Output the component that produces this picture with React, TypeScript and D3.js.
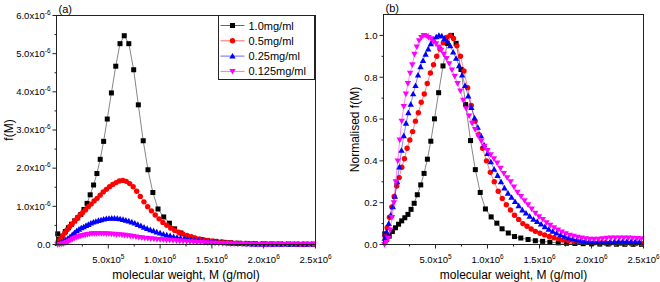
import React from 'react';
import * as d3 from 'd3';

// ---------- data (M in units of 1e5 g/mol; normalised f(M)) ----------
const seriesLabels = ['1.0mg/ml', '0.5mg/ml', '0.25mg/ml', '0.125mg/ml'];
const seriesColors = ['#000000', '#ff0000', '#0000ff', '#ff00ff'];
const seriesShapes = ['square', 'circle', 'triangleUp', 'triangleDown'];
// peak height of f(M) for each concentration, units of 1e-6
const peakValues = [5.47, 1.68, 0.69, 0.29];

const mBlack = [0.12, 0.3, 0.55, 0.85, 1.15, 1.45, 1.75, 2.05, 2.35, 2.65, 2.95, 3.25, 3.58, 3.9, 4.22, 4.55, 4.9, 5.3, 5.72, 6.13, 6.54, 6.98, 7.45, 7.9, 8.37, 8.83, 9.3, 9.8, 10.35, 10.9, 11.4, 12.0, 12.6, 13.2, 13.9, 14.6, 15.3, 16.0, 16.8, 17.6, 18.4, 19.2, 20.0, 20.8, 21.6, 22.4, 23.2, 24.0, 24.8];
const nBlack = [0.051, 0.024, 0.04, 0.062, 0.08, 0.097, 0.113, 0.128, 0.144, 0.168, 0.197, 0.238, 0.285, 0.34, 0.408, 0.494, 0.601, 0.726, 0.854, 0.962, 1.0, 0.962, 0.837, 0.669, 0.497, 0.358, 0.249, 0.17, 0.132, 0.102, 0.075, 0.055, 0.038, 0.031, 0.024, 0.018, 0.015, 0.011, 0.008, 0.006, 0.005, 0.004, 0.003, 0.002, 0.002, 0.0015, 0.001, 0.001, 0.001];

const mRed = [0.15, 0.35, 0.57, 0.8, 1.03, 1.27, 1.51, 1.76, 2.01, 2.27, 2.53, 2.8, 3.07, 3.35, 3.63, 3.92, 4.21, 4.51, 4.81, 5.12, 5.43, 5.75, 6.07, 6.4, 6.73, 7.06, 7.4, 7.74, 8.09, 8.44, 8.8, 9.16, 9.53, 9.9, 10.27, 10.65, 11.03, 11.42, 11.81, 12.2, 12.6, 13.0, 13.4, 13.8, 14.2, 14.6, 15.05, 15.5, 15.95, 16.4, 16.85, 17.3, 17.8, 18.3, 18.8, 19.3, 19.8, 20.3, 20.8, 21.3, 21.8, 22.3, 22.8, 23.3, 23.8, 24.3, 24.8];
const nRed = [0.04, 0.08, 0.13, 0.18, 0.23, 0.28, 0.32, 0.37, 0.41, 0.46, 0.5, 0.54, 0.59, 0.63, 0.68, 0.72, 0.77, 0.82, 0.86, 0.9, 0.935, 0.965, 0.99, 1.0, 0.985, 0.95, 0.9, 0.83, 0.75, 0.665, 0.59, 0.525, 0.46, 0.4, 0.345, 0.3, 0.255, 0.22, 0.19, 0.165, 0.14, 0.12, 0.1, 0.087, 0.074, 0.063, 0.054, 0.046, 0.038, 0.032, 0.027, 0.022, 0.018, 0.015, 0.012, 0.01, 0.009, 0.008, 0.007, 0.007, 0.006, 0.006, 0.006, 0.005, 0.005, 0.005, 0.005];

const mBlue = [0.12, 0.3, 0.5, 0.7, 0.9, 1.1, 1.31, 1.52, 1.73, 1.95, 2.17, 2.39, 2.62, 2.85, 3.08, 3.32, 3.56, 3.8, 4.05, 4.3, 4.55, 4.81, 5.07, 5.33, 5.6, 5.87, 6.14, 6.42, 6.7, 6.98, 7.27, 7.56, 7.85, 8.15, 8.45, 8.75, 9.06, 9.37, 9.68, 10.0, 10.32, 10.64, 10.97, 11.3, 11.63, 11.97, 12.31, 12.65, 13.0, 13.35, 13.7, 14.06, 14.42, 14.78, 15.15, 15.52, 15.89, 16.27, 16.65, 17.03, 17.42, 17.81, 18.2, 18.6, 19.0, 19.4, 19.8, 20.2, 20.6, 21.0, 21.4, 21.8, 22.2, 22.6, 23.0, 23.4, 23.8, 24.2, 24.6];
const nBlue = [0.03, 0.06, 0.1, 0.14, 0.18, 0.23, 0.3, 0.37, 0.45, 0.52, 0.58, 0.63, 0.67, 0.72, 0.76, 0.81, 0.85, 0.88, 0.91, 0.935, 0.96, 0.98, 0.993, 1.0, 0.997, 0.985, 0.97, 0.95, 0.92, 0.89, 0.855, 0.81, 0.76, 0.71, 0.655, 0.605, 0.56, 0.52, 0.475, 0.435, 0.395, 0.36, 0.33, 0.3, 0.27, 0.245, 0.225, 0.205, 0.185, 0.165, 0.15, 0.135, 0.12, 0.11, 0.097, 0.085, 0.073, 0.063, 0.054, 0.046, 0.039, 0.032, 0.027, 0.022, 0.018, 0.015, 0.013, 0.012, 0.011, 0.011, 0.012, 0.013, 0.014, 0.015, 0.015, 0.015, 0.014, 0.013, 0.012];

const mMagenta = [0.1, 0.28, 0.46, 0.64, 0.82, 1.0, 1.18, 1.37, 1.56, 1.75, 1.95, 2.15, 2.35, 2.56, 2.77, 2.98, 3.2, 3.42, 3.64, 3.87, 4.1, 4.33, 4.57, 4.81, 5.05, 5.3, 5.55, 5.8, 6.06, 6.32, 6.58, 6.85, 7.12, 7.39, 7.67, 7.95, 8.23, 8.52, 8.81, 9.1, 9.4, 9.7, 10.0, 10.31, 10.62, 10.93, 11.25, 11.57, 11.89, 12.22, 12.55, 12.88, 13.22, 13.56, 13.9, 14.25, 14.6, 14.95, 15.31, 15.67, 16.03, 16.4, 16.77, 17.14, 17.52, 17.9, 18.28, 18.67, 19.06, 19.45, 19.85, 20.25, 20.65, 21.05, 21.46, 21.87, 22.28, 22.7, 23.12, 23.54, 23.96, 24.38, 24.8];
const nMagenta = [0.0, 0.01, 0.03, 0.07, 0.13, 0.2, 0.3, 0.4, 0.5, 0.59, 0.66, 0.72, 0.77, 0.82, 0.86, 0.91, 0.945, 0.975, 0.99, 1.0, 0.998, 0.99, 0.985, 0.97, 0.96, 0.945, 0.93, 0.91, 0.89, 0.865, 0.835, 0.805, 0.77, 0.735, 0.69, 0.65, 0.615, 0.58, 0.55, 0.52, 0.495, 0.47, 0.45, 0.43, 0.41, 0.39, 0.365, 0.34, 0.32, 0.3, 0.275, 0.25, 0.23, 0.21, 0.19, 0.17, 0.15, 0.133, 0.12, 0.105, 0.092, 0.08, 0.07, 0.06, 0.052, 0.045, 0.04, 0.035, 0.031, 0.028, 0.026, 0.025, 0.026, 0.028, 0.03, 0.031, 0.032, 0.032, 0.032, 0.031, 0.03, 0.029, 0.028];

const seriesM = [mBlack, mRed, mBlue, mMagenta];
const seriesN = [nBlack, nRed, nBlue, nMagenta];

// ticks
const xTickValues = [5, 10, 15, 20, 25];
const xTickMant = ['5.0', '1.0', '1.5', '2.0', '2.5'];
const xTickExp = ['5', '6', '6', '6', '6'];
const xMinorTicks = [2.5, 7.5, 12.5, 17.5, 22.5];
const yLeftTicks = [0, 1, 2, 3, 4, 5, 6];
const yLeftMinor = [0.5, 1.5, 2.5, 3.5, 4.5, 5.5];
const yRightTicks = [0, 0.2, 0.4, 0.6, 0.8, 1.0];
const yRightMinor = [0.1, 0.3, 0.5, 0.7, 0.9];

const FONT = '"Liberation Sans", Arial, Helvetica, sans-serif';

function Marker({ shape, x, y, color }: { shape: string; x: number; y: number; color: string }) {
  if (shape === 'square') return <rect x={x - 2.5} y={y - 2.5} width={5} height={5} fill={color} />;
  if (shape === 'circle') return <circle cx={x} cy={y} r={2.7} fill={color} />;
  if (shape === 'triangleUp')
    return <path d={`M${x},${y - 3.2}L${x + 3.2},${y + 2.4}L${x - 3.2},${y + 2.4}Z`} fill={color} />;
  return <path d={`M${x},${y + 3.2}L${x + 3.2},${y - 2.4}L${x - 3.2},${y - 2.4}Z`} fill={color} />;
}

type PanelProps = {
  left: number; right: number; top: number; bottom: number;
  yMax: number; normalised: boolean; tag: string; yTitle: string; yTitleX: number;
};

function Panel(p: PanelProps) {
  const x = d3.scaleLinear().domain([0, 25]).range([p.left, p.right]);
  const y = d3.scaleLinear().domain([0, p.yMax]).range([p.bottom, p.top]);
  const line = d3.line<[number, number]>().x((d) => x(d[0])).y((d) => y(d[1]));
  const yTicks = p.normalised ? yRightTicks : yLeftTicks;
  const yMinor = p.normalised ? yRightMinor : yLeftMinor;
  const series = seriesM.map((ms, i) =>
    ms.map((m, j) => [m, p.normalised ? seriesN[i][j] : seriesN[i][j] * peakValues[i]] as [number, number])
  );
  const cx = (p.left + p.right) / 2;
  return (
    <g fontFamily={FONT}>
      {series.map((pts, i) => (
        <g key={i}>
          <path d={line(pts) || ''} fill="none" stroke={seriesColors[i]} strokeWidth={0.6} strokeOpacity={0.8} />
          {pts.map((d, j) => (
            <Marker key={j} shape={seriesShapes[i]} x={x(d[0])} y={y(d[1])} color={seriesColors[i]} />
          ))}
        </g>
      ))}
      <rect x={p.left} y={p.top} width={p.right - p.left} height={p.bottom - p.top} fill="none" stroke="#222" strokeWidth={1} />
      {xTickValues.map((v, i) => (
        <g key={'xt' + i}>
          <line x1={x(v)} x2={x(v)} y1={p.bottom} y2={p.bottom + 4} stroke="#222" />
          <text x={x(v)} y={p.bottom + 18} textAnchor="middle" fontSize={9.5}>
            {xTickMant[i]}x10<tspan dy={-4} fontSize={6.5}>{xTickExp[i]}</tspan>
          </text>
        </g>
      ))}
      {xMinorTicks.map((v, i) => (
        <line key={'xm' + i} x1={x(v)} x2={x(v)} y1={p.bottom} y2={p.bottom + 2} stroke="#222" />
      ))}
      {yTicks.map((v, i) => (
        <g key={'yt' + i}>
          <line x1={p.left - 4} x2={p.left} y1={y(v)} y2={y(v)} stroke="#222" />
          <text x={p.left - 6} y={y(v) + 3.3} textAnchor="end" fontSize={9.5}>
            {p.normalised || v === 0 ? v.toFixed(1) : (
              <>
                {v.toFixed(1)}x10<tspan dy={-4} fontSize={6.5}>-6</tspan>
              </>
            )}
          </text>
        </g>
      ))}
      {yMinor.map((v, i) => (
        <line key={'ym' + i} x1={p.left - 2} x2={p.left} y1={y(v)} y2={y(v)} stroke="#222" />
      ))}
      <text x={p.left + 2} y={p.top - 3} fontSize={11}>{p.tag}</text>
      <text x={cx} y={p.bottom + 34} textAnchor="middle" fontSize={12}>molecular weight, M (g/mol)</text>
      <text transform={`translate(${p.yTitleX},${(p.top + p.bottom) / 2}) rotate(-90)`} textAnchor="middle" fontSize={12}>
        {p.yTitle}
      </text>
    </g>
  );
}

function Legend({ x0, y0 }: { x0: number; y0: number }) {
  return (
    <g fontFamily={FONT}>
      <rect x={x0} y={y0} width={96} height={64} fill="#fff" stroke="#222" strokeWidth={1} />
      {seriesLabels.map((lab, i) => {
        const yy = y0 + 10 + i * 15.3;
        return (
          <g key={i}>
            <line x1={x0 + 2} x2={x0 + 26} y1={yy} y2={yy} stroke={seriesColors[i]} strokeWidth={0.6} />
            <Marker shape={seriesShapes[i]} x={x0 + 14} y={yy} color={seriesColors[i]} />
            <text x={x0 + 30} y={yy + 4} fontSize={11}>{lab}</text>
          </g>
        );
      })}
    </g>
  );
}

export default function App() {
  return (
    <svg width={660} height={282} style={{ position: 'fixed', left: 0, top: 0, background: '#fff' }}>
      <rect width={660} height={282} fill="#fff" />
      <Panel left={56.5} right={315.5} top={15.5} bottom={244.5} yMax={6} normalised={false} tag="(a)" yTitle="f(M)" yTitleX={13} />
      <Legend x0={218.5} y0={15.5} />
      <Panel left={383.5} right={643.5} top={14.5} bottom={244.5} yMax={1.1} normalised={true} tag="(b)" yTitle="Normalised f(M)" yTitleX={359} />
    </svg>
  );
}
